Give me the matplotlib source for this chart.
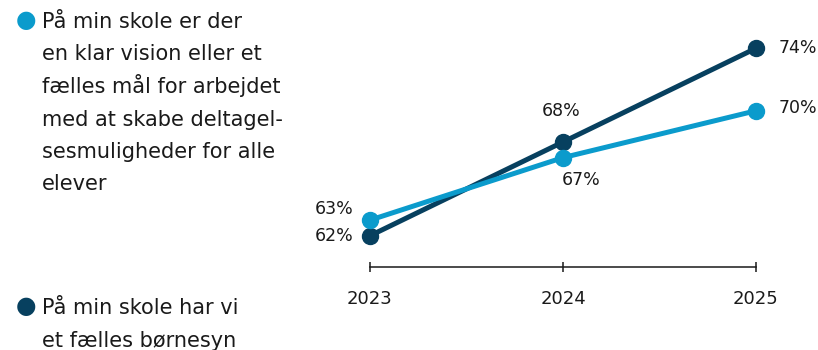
import matplotlib
matplotlib.use("Agg")
import matplotlib.pyplot as plt

plt.rcParams["font.family"] = ["DejaVu Sans"]

years = [2023, 2024, 2025]
vision = [63, 67, 70]
boernesyn = [62, 68, 74]
vision_lines = ["På min skole er der", "en klar vision eller et", "fælles mål for arbejdet",
                "med at skabe deltagel-", "sesmuligheder for alle", "elever"]
boernesyn_lines = ["På min skole har vi", "et fælles børnesyn"]

LIGHT = "#0b9bcc"
DARK = "#07405f"
TEXT = "#1a1a1a"
W, H = 818, 350

fig = plt.figure(figsize=(W / 100, H / 100), dpi=100)
ax = fig.add_axes([370 / W, 83 / H, 386 / W, 250 / H])

for vals, col in [(boernesyn, DARK), (vision, LIGHT)]:
    ax.plot(years, vals, color=col, lw=3.6, marker="o", ms=11.5,
            solid_capstyle="round", clip_on=False, zorder=3)

# value labels, offsets in points from each marker
offs_vision = [(-12, 8, "right"), (13, -16, "center"), (16, 2, "left")]
offs_boern = [(-12, 0, "right"), (-1, 22, "center"), (16, 0, "left")]
for vals, offs in [(vision, offs_vision), (boernesyn, offs_boern)]:
    for x, v, (dx, dy, ha) in zip(years, vals, offs):
        ax.annotate(f"{v}%", (x, v), xytext=(dx, dy), textcoords="offset points",
                    ha=ha, va="center", fontsize=12.5, color=TEXT)

ax.set_xlim(2023, 2025)
ax.set_ylim(60, 76)
for s in ["top", "left", "right"]:
    ax.spines[s].set_visible(False)
ax.spines["bottom"].set_color(TEXT)
ax.spines["bottom"].set_linewidth(1.1)
ax.set_yticks([])
ax.set_xticks(years)
ax.set_xticklabels([str(y) for y in years])
ax.tick_params(axis="x", direction="inout", length=7, width=1.1, color=TEXT,
               pad=13, labelsize=13, labelcolor=TEXT)


def legend_block(lines, color, first_baseline):
    # dot plus one text row per line, fixed row pitch
    fig.text(26 / W, 1 - (first_baseline - 8) / H, "\u25cf", color=color, fontsize=17,
             ha="center", va="center")
    for i, line in enumerate(lines):
        y = first_baseline + 32.5 * i
        fig.text(42 / W, 1 - y / H, line, fontsize=15, color=TEXT, ha="left", va="baseline")


legend_block(vision_lines, LIGHT, 28)
legend_block(boernesyn_lines, DARK, 314.5)

fig.savefig("out.png", dpi=100)
